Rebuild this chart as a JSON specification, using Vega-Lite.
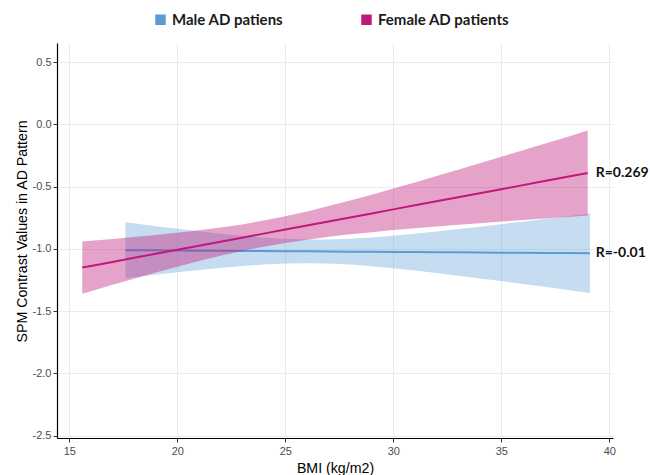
{
  "$schema": "https://vega.github.io/schema/vega-lite/v6.json",
  "width": 556,
  "height": 395,
  "autosize": "none",
  "padding": {"left": 57, "top": 43, "right": 37, "bottom": 37},
  "background": "white",
  "config": {
    "view": {"stroke": null},
    "axis": {
      "domainColor": "black", "domainWidth": 1.2,
      "tickColor": "#333333", "tickSize": 4,
      "labelColor": "#4D4D4D", "labelFont": "Liberation Sans", "labelFontSize": 11,
      "titleFont": "Liberation Sans", "titleFontSize": 14.2, "titleFontWeight": "normal", "titleColor": "black",
      "gridColor": "#EBEBEB", "gridWidth": 1
    }
  },
  "datasets": {
    "fits": [
      {"sex": "Male AD patiens", "bmi": 17.6, "fit": -1.010, "lo": -1.235, "hi": -0.785},
      {"sex": "Male AD patiens", "bmi": 18, "fit": -1.0105, "lo": -1.227, "hi": -0.794},
      {"sex": "Male AD patiens", "bmi": 19, "fit": -1.0116, "lo": -1.207, "hi": -0.817},
      {"sex": "Male AD patiens", "bmi": 20, "fit": -1.0128, "lo": -1.188, "hi": -0.838},
      {"sex": "Male AD patiens", "bmi": 21, "fit": -1.0140, "lo": -1.170, "hi": -0.859},
      {"sex": "Male AD patiens", "bmi": 22, "fit": -1.0151, "lo": -1.153, "hi": -0.878},
      {"sex": "Male AD patiens", "bmi": 23, "fit": -1.0163, "lo": -1.138, "hi": -0.895},
      {"sex": "Male AD patiens", "bmi": 24, "fit": -1.0174, "lo": -1.126, "hi": -0.909},
      {"sex": "Male AD patiens", "bmi": 25, "fit": -1.0186, "lo": -1.118, "hi": -0.919},
      {"sex": "Male AD patiens", "bmi": 26, "fit": -1.0198, "lo": -1.115, "hi": -0.925},
      {"sex": "Male AD patiens", "bmi": 27, "fit": -1.0209, "lo": -1.118, "hi": -0.924},
      {"sex": "Male AD patiens", "bmi": 28, "fit": -1.0221, "lo": -1.126, "hi": -0.918},
      {"sex": "Male AD patiens", "bmi": 29, "fit": -1.0233, "lo": -1.139, "hi": -0.908},
      {"sex": "Male AD patiens", "bmi": 30, "fit": -1.0244, "lo": -1.155, "hi": -0.894},
      {"sex": "Male AD patiens", "bmi": 31, "fit": -1.0256, "lo": -1.174, "hi": -0.878},
      {"sex": "Male AD patiens", "bmi": 32, "fit": -1.0267, "lo": -1.194, "hi": -0.860},
      {"sex": "Male AD patiens", "bmi": 33, "fit": -1.0279, "lo": -1.215, "hi": -0.841},
      {"sex": "Male AD patiens", "bmi": 34, "fit": -1.0291, "lo": -1.237, "hi": -0.821},
      {"sex": "Male AD patiens", "bmi": 35, "fit": -1.0302, "lo": -1.259, "hi": -0.801},
      {"sex": "Male AD patiens", "bmi": 36, "fit": -1.0314, "lo": -1.282, "hi": -0.781},
      {"sex": "Male AD patiens", "bmi": 37, "fit": -1.0326, "lo": -1.305, "hi": -0.760},
      {"sex": "Male AD patiens", "bmi": 38, "fit": -1.0337, "lo": -1.329, "hi": -0.739},
      {"sex": "Male AD patiens", "bmi": 39, "fit": -1.0349, "lo": -1.352, "hi": -0.717},
      {"sex": "Male AD patiens", "bmi": 39.1, "fit": -1.035, "lo": -1.355, "hi": -0.715},
      {"sex": "Female AD patients", "bmi": 15.6, "fit": -1.150, "lo": -1.360, "hi": -0.940},
      {"sex": "Female AD patients", "bmi": 16, "fit": -1.137, "lo": -1.340, "hi": -0.935},
      {"sex": "Female AD patients", "bmi": 17, "fit": -1.1045, "lo": -1.289, "hi": -0.920},
      {"sex": "Female AD patients", "bmi": 18, "fit": -1.072, "lo": -1.239, "hi": -0.905},
      {"sex": "Female AD patients", "bmi": 19, "fit": -1.0396, "lo": -1.190, "hi": -0.889},
      {"sex": "Female AD patients", "bmi": 20, "fit": -1.0071, "lo": -1.143, "hi": -0.871},
      {"sex": "Female AD patients", "bmi": 21, "fit": -0.9746, "lo": -1.098, "hi": -0.851},
      {"sex": "Female AD patients", "bmi": 22, "fit": -0.9421, "lo": -1.056, "hi": -0.829},
      {"sex": "Female AD patients", "bmi": 23, "fit": -0.9096, "lo": -1.017, "hi": -0.803},
      {"sex": "Female AD patients", "bmi": 24, "fit": -0.8772, "lo": -0.982, "hi": -0.772},
      {"sex": "Female AD patients", "bmi": 25, "fit": -0.8447, "lo": -0.952, "hi": -0.738},
      {"sex": "Female AD patients", "bmi": 26, "fit": -0.8122, "lo": -0.926, "hi": -0.699},
      {"sex": "Female AD patients", "bmi": 27, "fit": -0.7797, "lo": -0.903, "hi": -0.656},
      {"sex": "Female AD patients", "bmi": 28, "fit": -0.7472, "lo": -0.883, "hi": -0.611},
      {"sex": "Female AD patients", "bmi": 29, "fit": -0.7148, "lo": -0.866, "hi": -0.564},
      {"sex": "Female AD patients", "bmi": 30, "fit": -0.6823, "lo": -0.849, "hi": -0.515},
      {"sex": "Female AD patients", "bmi": 31, "fit": -0.6498, "lo": -0.834, "hi": -0.466},
      {"sex": "Female AD patients", "bmi": 32, "fit": -0.6173, "lo": -0.820, "hi": -0.415},
      {"sex": "Female AD patients", "bmi": 33, "fit": -0.5848, "lo": -0.806, "hi": -0.364},
      {"sex": "Female AD patients", "bmi": 34, "fit": -0.5524, "lo": -0.793, "hi": -0.312},
      {"sex": "Female AD patients", "bmi": 35, "fit": -0.5199, "lo": -0.780, "hi": -0.260},
      {"sex": "Female AD patients", "bmi": 36, "fit": -0.4874, "lo": -0.768, "hi": -0.207},
      {"sex": "Female AD patients", "bmi": 37, "fit": -0.4549, "lo": -0.755, "hi": -0.155},
      {"sex": "Female AD patients", "bmi": 38, "fit": -0.4224, "lo": -0.743, "hi": -0.102},
      {"sex": "Female AD patients", "bmi": 39, "fit": -0.390, "lo": -0.731, "hi": -0.049}
    ],
    "labels": [
      {"bmi": 39, "y": -0.39, "label": "R=0.269"},
      {"bmi": 39, "y": -1.035, "label": "R=-0.01"}
    ]
  },
  "encoding": {
    "x": {"field": "bmi", "type": "quantitative", "title": "BMI (kg/m2)",
      "scale": {"domain": [14.43, 40.17], "nice": false, "zero": false},
      "axis": {"values": [15, 20, 25, 30, 35, 40], "labelPadding": 3, "titlePadding": 5}},
    "y": {"type": "quantitative", "title": "SPM Contrast Values in AD Pattern",
      "scale": {"domain": [-2.52, 0.655], "nice": false, "zero": false},
      "axis": {"values": [-2.5, -2, -1.5, -1, -0.5, 0, 0.5],
        "labelExpr": "datum.value < 0 ? '-' + format(-datum.value, '.1f') : format(datum.value, '.1f')",
        "labelPadding": 2, "titlePadding": 3, "titleY": 188}}
  },
  "layer": [
    {
      "data": {"name": "fits"},
      "transform": [{"filter": "datum.sex === 'Male AD patiens'"}],
      "mark": {"type": "area", "opacity": 0.35},
      "encoding": {
        "y": {"field": "lo", "type": "quantitative"},
        "y2": {"field": "hi"},
        "color": {"field": "sex", "type": "nominal",
          "scale": {"domain": ["Male AD patiens", "Female AD patients"], "range": ["#5B9BD5", "#C0187B"]},
          "legend": {"title": null, "orient": "none", "direction": "horizontal", "legendX": 96, "legendY": -31,
            "symbolType": "square", "symbolSize": 110, "symbolOpacity": 1, "symbolStrokeWidth": 0,
            "labelFont": "Lato", "labelFontWeight": "bold", "labelFontSize": 15, "labelColor": "#1a1a1a",
            "columnPadding": 75, "labelOffset": 4,
            "encode": {"symbols": {"update": {"opacity": {"value": 1}, "fillOpacity": {"value": 1}}}}}}
      }
    },
    {
      "data": {"name": "fits"},
      "transform": [{"filter": "datum.sex === 'Male AD patiens'"}],
      "mark": {"type": "line", "strokeWidth": 2, "color": "#5B9BD5"},
      "encoding": {"y": {"field": "fit", "type": "quantitative"}}
    },
    {
      "data": {"name": "fits"},
      "transform": [{"filter": "datum.sex === 'Female AD patients'"}],
      "mark": {"type": "area", "opacity": 0.4},
      "encoding": {
        "y": {"field": "lo", "type": "quantitative"},
        "y2": {"field": "hi"},
        "color": {"field": "sex", "type": "nominal"}
      }
    },
    {
      "data": {"name": "fits"},
      "transform": [{"filter": "datum.sex === 'Female AD patients'"}],
      "mark": {"type": "line", "strokeWidth": 2, "color": "#C0187B"},
      "encoding": {"y": {"field": "fit", "type": "quantitative"}}
    },
    {
      "data": {"name": "labels"},
      "mark": {"type": "text", "align": "left", "baseline": "middle", "dx": 8, "font": "Lato", "fontWeight": "bold", "fontSize": 14, "color": "#111111"},
      "encoding": {
        "y": {"field": "y", "type": "quantitative"},
        "text": {"field": "label"}
      }
    }
  ]
}
